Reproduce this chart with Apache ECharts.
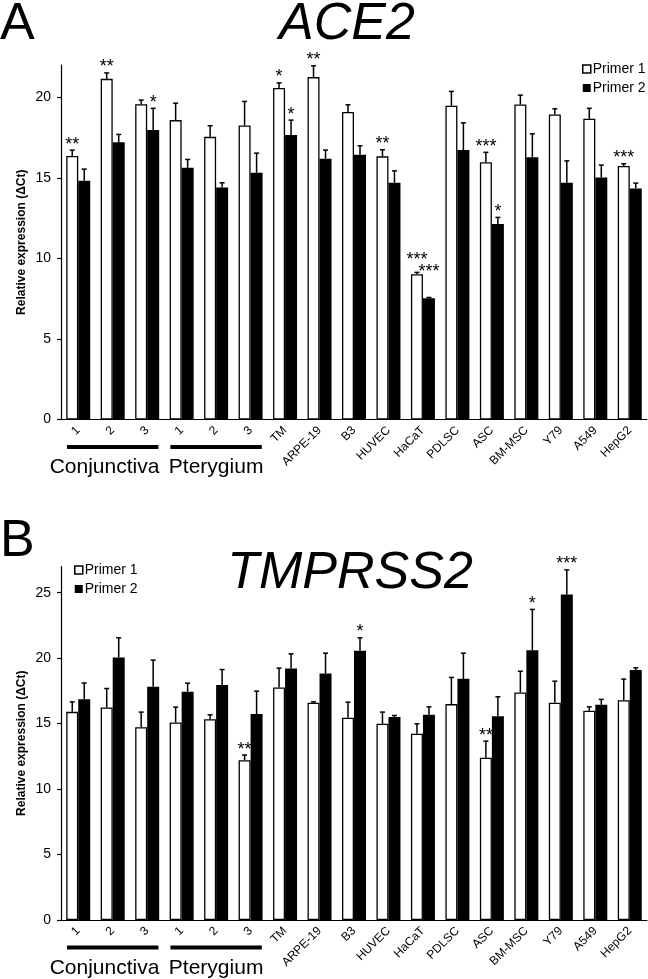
<!DOCTYPE html>
<html>
<head>
<meta charset="utf-8">
<script src="https://cdn.jsdelivr.net/npm/echarts@6/dist/echarts.min.js"></script>
<style>
html,body{margin:0;padding:0;background:#fff;}
#chart{width:648px;height:979px;}
</style>
</head>
<body>
<div id="chart"></div>
<script>
// ---- data ----
const categories = ['1','2','3','1','2','3','TM','ARPE-19','B3','HUVEC','HaCaT','PDLSC','ASC','BM-MSC','Y79','A549','HepG2'];
const groups = ['Conjunctiva','Pterygium'];
const groupRanges = [[0,2],[3,5]];
const seriesNames = ['Primer 1','Primer 2'];
const titleA = 'ACE2';
const titleB = 'TMPRSS2';
const yAxisName = 'Relative expression (\u0394Ct)';
const yTicksA = [0,5,10,15,20];
const yTicksB = [0,5,10,15,20,25];

const ace2P1 = [16.36,21.14,19.57,18.58,17.54,18.25,20.58,21.25,19.09,16.33,9.01,19.47,15.97,19.55,18.93,18.66,15.73];
const ace2P1sd = [0.36,0.37,0.25,1.05,0.69,1.49,0.31,0.70,0.44,0.41,0.12,0.89,0.61,0.58,0.35,0.65,0.14];
const ace2P2 = [14.81,17.20,17.96,15.62,14.40,15.31,17.65,16.18,16.43,14.69,7.52,16.72,12.13,16.27,14.69,15.02,14.34];
const ace2P2sd = [0.73,0.49,1.35,0.52,0.29,1.22,0.93,0.54,0.56,0.74,0.05,1.69,0.41,1.46,1.36,0.77,0.33];
const ace2P1stars = ['**','**','','','','','*','**','','**','***','','***','','','','***'];
const ace2P2stars = ['','','*','','','','*','','','','***','','*','','','',''];

const tmpP1 = [15.90,16.23,14.73,15.09,15.34,12.21,17.76,16.59,15.45,14.99,14.22,16.49,12.39,17.38,16.59,15.98,16.79];
const tmpP1sd = [0.76,1.45,1.15,1.17,0.33,0.39,1.48,0.07,1.19,0.89,0.77,2.04,1.27,1.62,1.65,0.30,1.61];
const tmpP2 = [16.87,20.05,17.81,17.43,17.94,15.73,19.21,18.83,20.56,15.50,15.67,18.42,15.57,20.61,24.86,16.44,19.10];
const tmpP2sd = [1.23,1.50,2.04,0.66,1.19,1.75,1.12,1.55,0.99,0.12,0.61,1.96,1.48,3.11,1.88,0.41,0.16];
const tmpP1stars = ['','','','','','**','','','','','','','**','','','',''];
const tmpP2stars = ['','','','','','','','','*','','','','','*','***','',''];

// ---- chart ----
const FONT = "'Liberation Sans', Arial, sans-serif";
const BAR_W = 12;
const STAR_SIZE = 18;
const chart = echarts.init(document.getElementById('chart'), null, {renderer:'canvas'});

function errSeries(gi, sign, means, sds, stars, otherMeans, otherSds, otherStars) {
  return {
    type: 'custom',
    xAxisIndex: gi, yAxisIndex: gi,
    z: 5,
    silent: true,
    encode: {x: 0, y: 1},
    data: means.map((m, i) => [i, m, sds[i]]),
    renderItem: function (params, api) {
      const i = api.value(0), m = api.value(1), sd = api.value(2);
      const pBase = api.coord([i, m]);
      const pTop = api.coord([i, m + sd]);
      const x = pBase[0] + sign * BAR_W / 2;
      const children = [
        {type: 'line', shape: {x1: x, y1: pBase[1], x2: x, y2: pTop[1]}, style: {stroke: '#000', lineWidth: 1.5}},
        {type: 'line', shape: {x1: x - 2.5, y1: pTop[1], x2: x + 2.5, y2: pTop[1]}, style: {stroke: '#000', lineWidth: 1.5}}
      ];
      const s = stars[i];
      if (s) {
        let cy = pTop[1] - 9.5;
        // stagger wide labels when both primers of one category carry them
        const o = otherStars[i];
        if (o && s.length >= 3 && o.length >= 3) {
          const otherTop = api.coord([i, otherMeans[i] + otherSds[i]])[1];
          const higherTop = Math.min(pTop[1], otherTop);
          cy = sign > 0 ? higherTop - 4.6 : higherTop - 16.3;
        }
        children.push({type: 'text', style: {text: s, x: x, y: cy + 0.225 * STAR_SIZE, align: 'center', verticalAlign: 'middle', fontSize: STAR_SIZE, fontFamily: FONT, fill: '#000'}});
      }
      return {type: 'group', children: children};
    }
  };
}

function barSeries(gi, name, data, white) {
  return {
    type: 'bar', name: name, xAxisIndex: gi, yAxisIndex: gi,
    barWidth: BAR_W, barGap: '0%',
    data: data,
    itemStyle: white ? {color: '#fff', borderColor: '#000', borderWidth: 1.3} : {color: '#000', borderColor: '#000', borderWidth: 0},
    emphasis: {disabled: true}
  };
}

function xAx(gi) {
  return {
    type: 'category', gridIndex: gi, data: categories,
    axisLine: {lineStyle: {color: '#000', width: 1.2}},
    axisTick: {length: 4, lineStyle: {color: '#000', width: 1.2}},
    axisLabel: {rotate: 45, fontSize: 12, color: '#000', fontFamily: FONT, margin: 9, interval: 0}
  };
}
function yAx(gi, max, ticks) {
  return {
    type: 'value', gridIndex: gi, min: 0, max: max, interval: 5,
    name: yAxisName, nameLocation: 'middle', nameGap: 33, nameMoveOverlap: false,
    nameTextStyle: {fontSize: 12, fontWeight: 'bold', color: '#000', fontFamily: FONT},
    splitLine: {show: false},
    axisLine: {show: true, lineStyle: {color: '#000', width: 1.2}},
    axisTick: {show: true, length: 4, lineStyle: {color: '#000', width: 1.2}, customValues: ticks},
    axisLabel: {fontSize: 14, color: '#000', fontFamily: FONT, margin: 10, customValues: ticks}
  };
}

function legendAt(left, top) {
  return {
    orient: 'vertical', left: left, top: top, padding: 0, itemWidth: 8, itemHeight: 8, itemGap: 5,
    icon: 'rect', selectedMode: false,
    textStyle: {fontSize: 14, color: '#000', fontFamily: FONT, padding: [0, 0, 0, -3]},
    data: [
      {name: seriesNames[0], itemStyle: {color: '#fff', borderColor: '#000', borderWidth: 1.5}},
      {name: seriesNames[1], itemStyle: {color: '#000', borderColor: '#000', borderWidth: 0}}
    ]
  };
}

const option = {
  backgroundColor: '#fff',
  animation: false,
  textStyle: {fontFamily: FONT},
  grid: [
    {left: 61, right: 1, top: 65, height: 354.5},
    {left: 61, right: 1, top: 566.5, height: 353.5}
  ],
  xAxis: [xAx(0), xAx(1)],
  yAxis: [yAx(0, 22, yTicksA), yAx(1, 27, yTicksB)],
  legend: [legendAt(582, 62), legendAt(74, 563)],
  series: [
    barSeries(0, seriesNames[0], ace2P1, true),
    barSeries(0, seriesNames[1], ace2P2, false),
    errSeries(0, -1, ace2P1, ace2P1sd, ace2P1stars, ace2P2, ace2P2sd, ace2P2stars),
    errSeries(0, 1, ace2P2, ace2P2sd, ace2P2stars, ace2P1, ace2P1sd, ace2P1stars),
    barSeries(1, seriesNames[0], tmpP1, true),
    barSeries(1, seriesNames[1], tmpP2, false),
    errSeries(1, -1, tmpP1, tmpP1sd, tmpP1stars, tmpP2, tmpP2sd, tmpP2stars),
    errSeries(1, 1, tmpP2, tmpP2sd, tmpP2stars, tmpP1, tmpP1sd, tmpP1stars)
  ]
};
chart.setOption(option);

// ---- annotations positioned from the axes ----
const gfx = [];
function bigText(txt, x, y, italic, align) {
  gfx.push({type: 'text', x: x, y: y, style: {text: txt, fontSize: 52, fontStyle: italic ? 'italic' : 'normal', fontFamily: FONT, fill: '#000', align: align, verticalAlign: 'middle'}});
}
[0, 1].forEach(gi => {
  const band = chart.convertToPixel({xAxisIndex: gi}, 1) - chart.convertToPixel({xAxisIndex: gi}, 0);
  const y0 = chart.convertToPixel({yAxisIndex: gi}, 0);
  const edges = groupRanges.map(r => [chart.convertToPixel({xAxisIndex: gi}, r[0]) - band / 2, chart.convertToPixel({xAxisIndex: gi}, r[1]) + band / 2]);
  edges.forEach(e => {
    gfx.push({type: 'line', shape: {x1: e[0] + 6, y1: y0 + 27.5, x2: e[1] - 6, y2: y0 + 27.5}, style: {stroke: '#000', lineWidth: 4}});
  });
  gfx.push({type: 'text', x: edges[0][1] - 5, y: y0 + 48, style: {text: groups[0], fontSize: 21, fontFamily: FONT, fill: '#000', align: 'right', verticalAlign: 'middle'}});
  gfx.push({type: 'text', x: (edges[1][0] + edges[1][1]) / 2, y: y0 + 48, style: {text: groups[1], fontSize: 21, fontFamily: FONT, fill: '#000', align: 'center', verticalAlign: 'middle'}});
});
bigText('A', 0, 25, false, 'left');
bigText(titleA, 347, 25, true, 'center');
bigText('B', 0, 542, false, 'left');
bigText(titleB, 350, 574, true, 'center');
chart.setOption({graphic: gfx});
</script>
</body>
</html>
